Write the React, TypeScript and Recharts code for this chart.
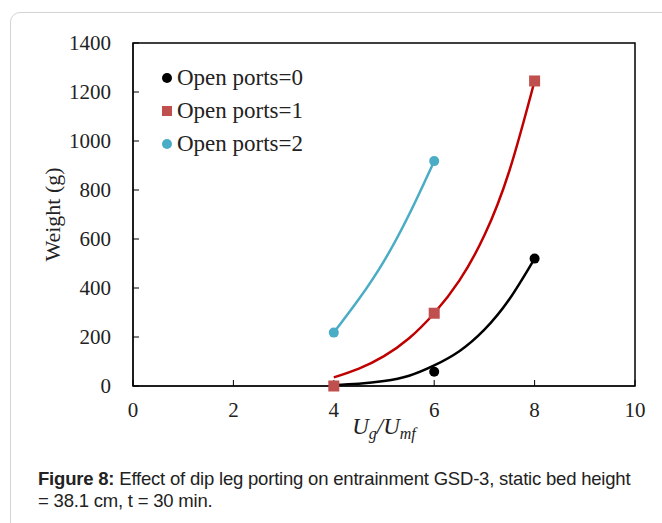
import {
  ComposedChart,
  Line,
  Scatter,
  XAxis,
  YAxis,
  ReferenceArea,
  Label,
} from "recharts";

// measured points
const ports0 = [
  { x: 4, y: 0 },
  { x: 6, y: 58 },
  { x: 8, y: 520 },
];
const ports1 = [
  { x: 4, y: 0 },
  { x: 6, y: 297 },
  { x: 8, y: 1245 },
];
const ports2 = [
  { x: 4, y: 218 },
  { x: 6, y: 918 },
];

// trend curves
const fitX = [4, 4.5, 5, 5.5, 6, 6.5, 7, 7.5, 8];
const fit0 = [4, 9, 20, 42, 84, 142, 230, 355, 520];
const fit1 = [35, 71, 122, 195, 297, 430, 615, 880, 1245];
const fitX2 = [4, 4.5, 5, 5.5, 6];
const fit2 = [218, 355, 510, 700, 918];

const xTicks = [0, 2, 4, 6, 8, 10];
const yTicks = [0, 200, 400, 600, 800, 1000, 1200, 1400];

const seriesNames = ["Open ports=0", "Open ports=1", "Open ports=2"];

const toPts = (xs: number[], ys: number[]) => xs.map((x, i) => ({ x, y: ys[i] }));

const BLACK = "#000000";
const RED_LINE = "#c00000";
const RED_MARK = "#c0504d";
const BLUE = "#4bacc6";

const serif = "'Liberation Serif', 'Times New Roman', serif";

const Dot = (color: string) => (p: any) => <circle cx={p.cx} cy={p.cy} r={5} fill={color} />;
const Square = (color: string) => (p: any) => (
  <rect x={p.cx - 5.5} y={p.cy - 5.5} width={11} height={11} fill={color} />
);

function XLabel(props: any) {
  const { viewBox } = props;
  const cx = viewBox.x + viewBox.width / 2;
  const y = viewBox.y + 48;
  return (
    <text x={cx} y={y} textAnchor="middle" fontFamily={serif} fontSize={23} fontStyle="italic" fill="#222">
      <tspan>U</tspan>
      <tspan fontSize={16} dy={5}>g</tspan>
      <tspan dy={-5}>/U</tspan>
      <tspan fontSize={16} dy={5}>mf</tspan>
    </text>
  );
}

function YLabel(props: any) {
  const { viewBox } = props;
  const x = 52;
  const y = viewBox.y + viewBox.height / 2;
  return (
    <text
      x={x}
      y={y}
      transform={`rotate(-90 ${x} ${y})`}
      textAnchor="middle"
      dominantBaseline="central"
      fontFamily={serif}
      fontSize={22}
      fill="#222"
    >
      Weight (g)
    </text>
  );
}

function LegendBox() {
  const colors = [BLACK, RED_MARK, BLUE];
  return (
    <div style={{ position: "absolute", left: 162, top: 61, fontFamily: serif, fontSize: 23, color: "#222" }}>
      {seriesNames.map((n, i) => (
        <div key={n} style={{ display: "flex", alignItems: "center", height: 33 }}>
          {i === 1 ? (
            <span style={{ width: 10, height: 10, background: colors[i], marginRight: 5 }} />
          ) : (
            <span style={{ width: 10, height: 10, borderRadius: 5, background: colors[i], marginRight: 5 }} />
          )}
          <span>{n}</span>
        </div>
      ))}
    </div>
  );
}

export default function App() {
  return (
    <div style={{ position: "absolute", left: 0, top: 0, width: 662, height: 523, overflow: "hidden", background: "#fff" }}>
      <div
        style={{
          position: "absolute",
          left: 10,
          top: 12,
          width: 700,
          height: 560,
          border: "1px solid #d4d4d4",
          borderRadius: 10,
        }}
      />
      <ComposedChart
        width={662}
        height={450}
        margin={{ top: 43, right: 27, left: 73, bottom: 34 }}
        style={{ position: "absolute", left: 0, top: 0 }}
      >
        <XAxis
          type="number"
          dataKey="x"
          domain={[0, 10]}
          ticks={xTicks}
          height={30}
          tickSize={-6}
          tickMargin={22}
          stroke="#000"
          tick={{ fill: "#222", fontFamily: serif, fontSize: 21 }}
        >
          <Label content={<XLabel />} />
        </XAxis>
        <YAxis
          type="number"
          dataKey="y"
          domain={[0, 1400]}
          ticks={yTicks}
          width={60}
          tickSize={-6}
          tickMargin={28}
          stroke="#000"
          tick={{ fill: "#222", fontFamily: serif, fontSize: 21 }}
        >
          <Label content={<YLabel />} />
        </YAxis>
        <ReferenceArea x1={0} x2={10} y1={0} y2={1400} stroke="#000" strokeWidth={1.5} fill="none" fillOpacity={0} />
        <Line data={toPts(fitX, fit0)} dataKey="y" type="natural" stroke={BLACK} strokeWidth={2.5} dot={false} isAnimationActive={false} />
        <Line data={toPts(fitX, fit1)} dataKey="y" type="natural" stroke={RED_LINE} strokeWidth={2.5} dot={false} isAnimationActive={false} />
        <Line data={toPts(fitX2, fit2)} dataKey="y" type="natural" stroke={BLUE} strokeWidth={2.5} dot={false} isAnimationActive={false} />
        <Scatter name={seriesNames[0]} data={ports0} shape={Dot(BLACK)} isAnimationActive={false} />
        <Scatter name={seriesNames[1]} data={ports1} shape={Square(RED_MARK)} isAnimationActive={false} />
        <Scatter name={seriesNames[2]} data={ports2} shape={Dot(BLUE)} isAnimationActive={false} />
      </ComposedChart>
      <LegendBox />
      <div
        style={{
          position: "absolute",
          left: 38,
          top: 468,
          whiteSpace: "nowrap",
          fontFamily: "'Liberation Sans', Arial, sans-serif",
          fontSize: 18.5,
          lineHeight: "22px",
          letterSpacing: -0.2,
          color: "#222",
        }}
      >
        <b>Figure 8:</b> Effect of dip leg porting on entrainment GSD-3, static bed height
        <br />= 38.1 cm, t = 30 min.
      </div>
    </div>
  );
}
